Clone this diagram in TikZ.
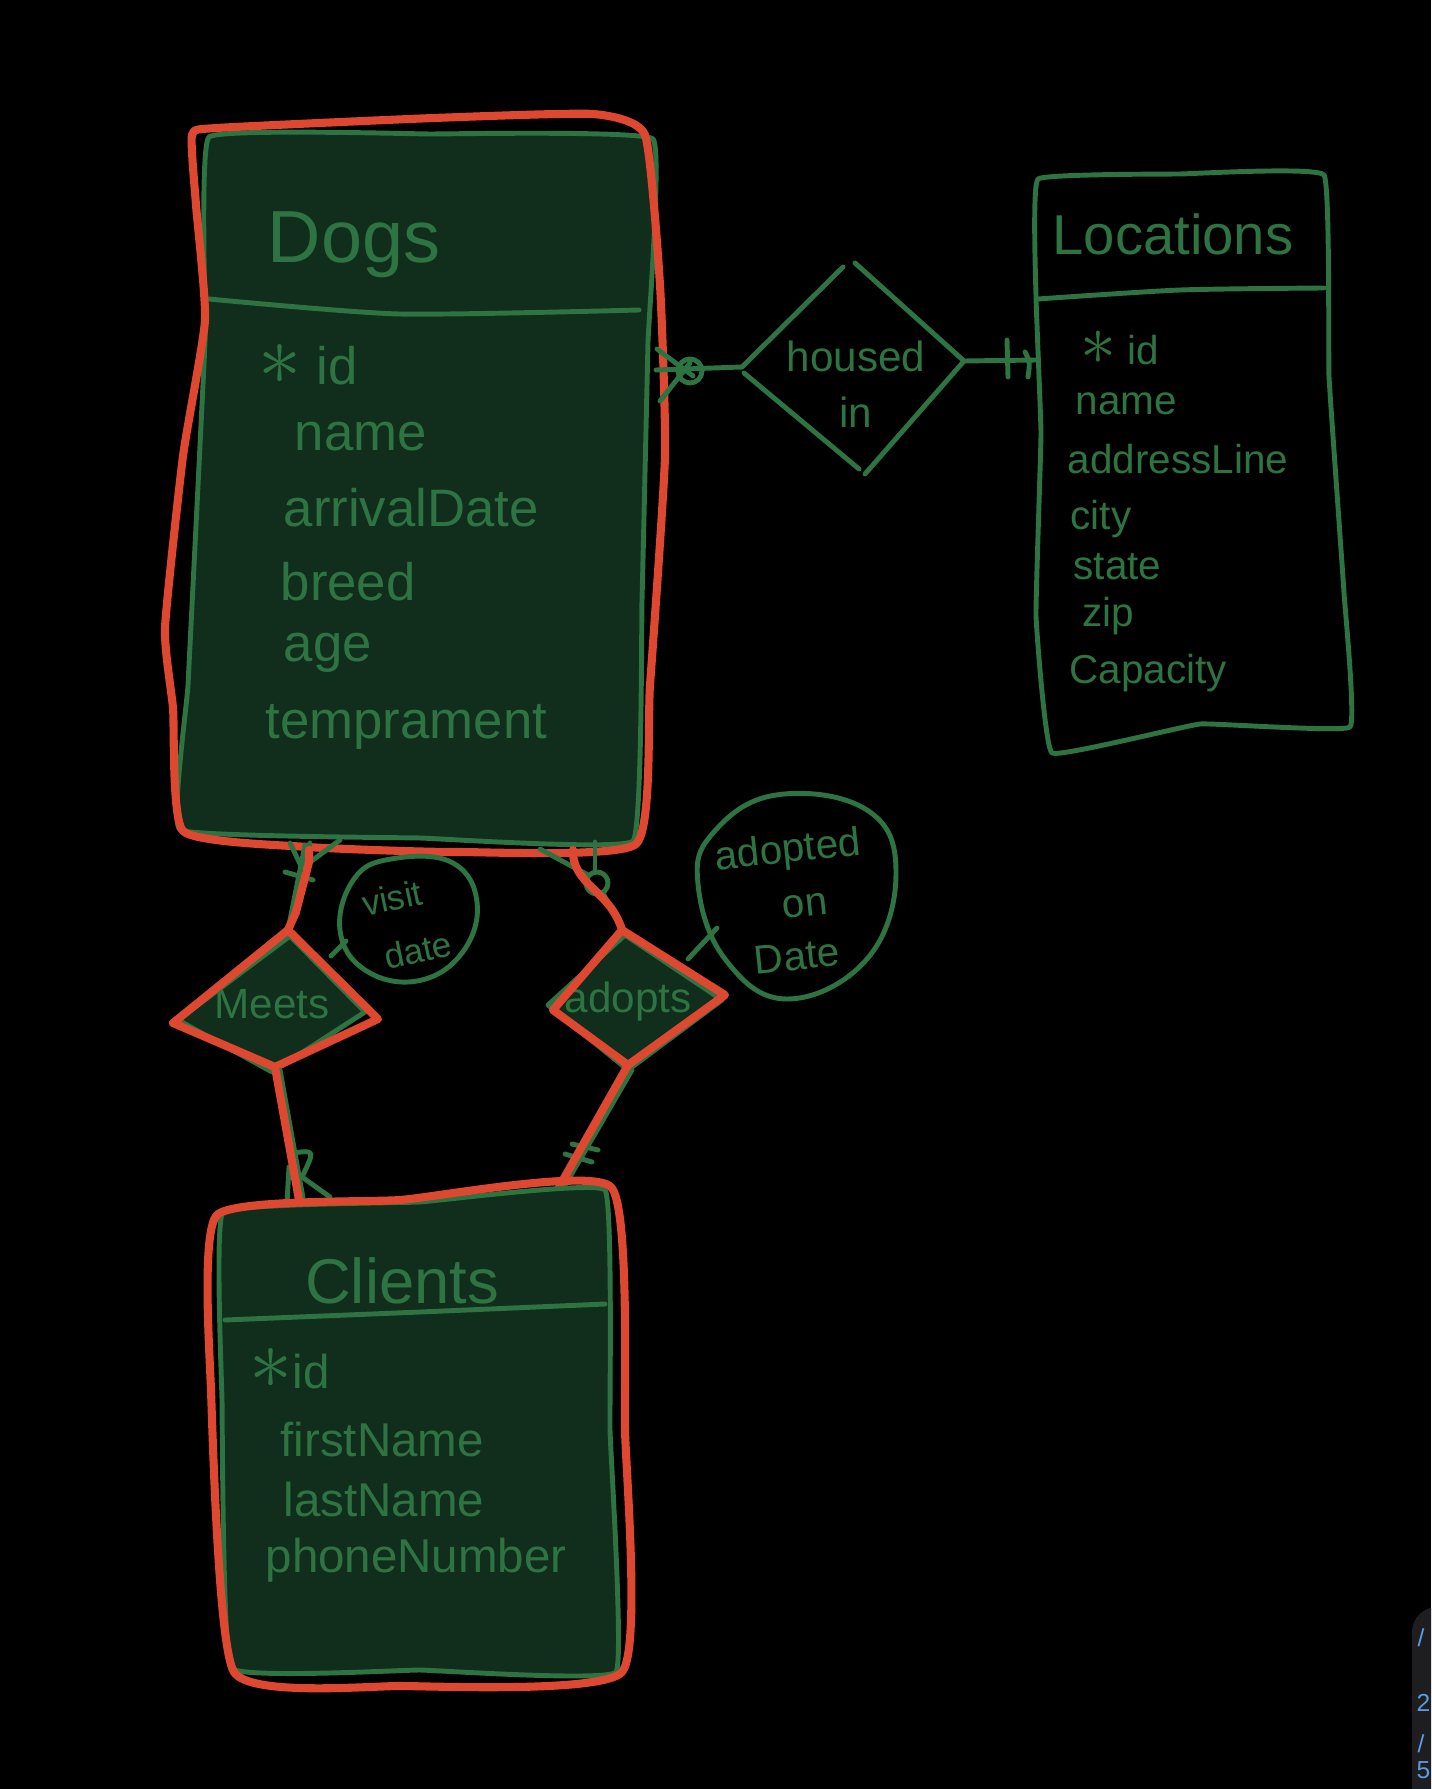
\documentclass[tikz,border=0pt]{standalone}
\usepackage{fontspec}
\setmainfont{Liberation Sans}
\usetikzlibrary{calc}
\definecolor{ergreen}{RGB}{46,115,66}
\definecolor{erfill}{RGB}{17,46,28}
\definecolor{erred}{RGB}{222,72,48}
\definecolor{uigray}{RGB}{30,30,32}
\definecolor{uiblue}{RGB}{90,155,225}
\newcommand{\fs}[1]{\fontsize{#1}{#1}\selectfont}
\newcommand{\keymark}{\scalebox{1.7}{$\ast$}}
\tikzset{
  pen/.style={draw=ergreen, line width=1.4pt, line cap=round, line join=round},
  redpen/.style={draw=erred, line width=2.3pt, line cap=round, line join=round},
  title/.style={text=ergreen, inner sep=0pt},
  attr/.style={text=ergreen, anchor=west, inner sep=0pt},
}

\begin{document}
\begin{tikzpicture}[x=0.01cm, y=-0.01cm]
			\fill[black] (0,0) rectangle (1431,1789);
			\useasboundingbox (0,0) rectangle (1431,1789);

			% Dogs
			\filldraw[pen, fill=erfill] plot[smooth cycle, tension=.15] coordinates {(209,137) (430,134) (653,139) (648,342) (642,600) (633,841) (420,838) (180,830) (188,685) (205,342)};
			\draw[pen] plot[smooth, tension=.4] coordinates {(209,299) (399,314) (639,310)};
			\node[title, font=\fs{21}] (dogs) at (354,245) {Dogs};
			\node[attr, font=\fs{15}] (d1) at (258,365) {\keymark\ id};
			\node[attr, font=\fs{15}] (d2) at (294,437) {name};
			\node[attr, font=\fs{15}] (d3) at (283,508) {arrivalDate};
			\node[attr, font=\fs{15}] (d4) at (280,582) {breed};
			\node[attr, font=\fs{15}] (d5) at (283,653) {age};
			\node[attr, font=\fs{15}] (d6) at (265,727) {temprament};
			\draw[redpen] plot[smooth cycle, tension=.3] coordinates {(192,135) (217,128) (434,118) (593,114) (645,135) (660,285) (665,456) (650,685) (636,844) (456,852) (308,847) (183,831) (173,708) (165,628) (183,456) (205,320) (196,205)};

			% Locations
			\draw[pen] plot[smooth cycle, tension=.15] coordinates {(1038,179) (1180,174) (1324,175) (1329,377) (1344,593) (1350,727) (1200,724) (1052,753) (1036,616) (1041,434) (1036,297)};
			\draw[pen] plot[smooth, tension=.4] coordinates {(1038,299) (1180,290) (1324,288)};
			\node[title, font=\fs{16}] (loc) at (1173,234) {Locations};
			\node[attr, font=\fs{11.5}] (l1) at (1080,348) {\keymark\ id};
			\node[attr, font=\fs{11.5}] (l2) at (1075,404) {name};
			\node[attr, font=\fs{11.5}] (l3) at (1067,459) {addressLine};
			\node[attr, font=\fs{11.5}] (l4) at (1070,519) {city};
			\node[attr, font=\fs{11.5}] (l5) at (1073,567) {state};
			\node[attr, font=\fs{11.5}] (l6) at (1082,616) {zip};
			\node[attr, font=\fs{11.5}] (l7) at (1069,673) {Capacity};

			% housed in
			\coordinate (hL) at (742,367);
			\coordinate (hT) at (849,265);
			\coordinate (hR) at (964,361);
			\coordinate (hB) at (865,474);
			\draw[pen] (hL) -- ($(hT)+(-6,2)$) ($(hT)+(6,-2)$) -- (hR) -- (hB) ($(hB)+(-6,-5)$) -- ($(hL)+(2,6)$);
			\node[title, font=\fs{12}, align=center] (housed) at (856,384) {housed\\[4pt]in};
			\coordinate (dR) at (656,370);
			\coordinate (lL) at (1037,360);
			\draw[pen] (dR) -- (hL);
			\draw[pen] (hR) -- (lL);
			\draw[pen] (657,349) -- (693,376) (660,401) -- (690,363);
			\draw[pen] (690,371) circle [radius=0.12cm];
			\draw[pen] (1007,340) -- (1008,377) (1025,352) .. controls (1030,362) .. (1028,377);

			% Meets
			\coordinate (mT) at (288,930);
			\coordinate (mL) at (173,1023);
			\coordinate (mB) at (275,1067);
			\coordinate (mR) at (378,1019);
			\filldraw[pen, fill=erfill] (290,936) -- (178,1020) -- (272,1072) -- (365,1012) -- cycle;
			\node[title, font=\fs{12}] (meets) at (272,1004) {Meets};
			\draw[redpen] (mT) -- (mL) -- (mB) -- (mR) -- cycle;

			% adopts
			\coordinate (aT) at (622,930);
			\coordinate (aL) at (553,1010);
			\coordinate (aB) at (628,1065);
			\coordinate (aR) at (725,995);
			\filldraw[pen, fill=erfill] (625,935) -- (548,1005) -- (628,1070) -- (722,1000) -- cycle;
			\node[title, font=\fs{12}] (adopts) at (628,1002) {adopts};
			\draw[redpen] (aT) -- (aL) -- (aB) -- (aR) -- cycle;

			% visit date
			\draw[pen] plot[smooth cycle, tension=.7] coordinates {(391,859) (451,862) (477,902) (462,953) (417,981) (365,970) (340,930) (354,879)};
			\node[title, font=\fs{10}, rotate=12] (visit) at (392,898) {visit};
			\node[title, font=\fs{10}, rotate=12] (vdate) at (418,950) {date};
			\coordinate (vd) at (346,941);
			\coordinate (mV) at (331,956);
			\draw[pen] (mV) -- (vd);

			% adopted on Date
			\draw[pen] plot[smooth cycle, tension=.7] coordinates {(776,795) (713,833) (698,884) (725,959) (787,999) (867,959) (896,873) (867,810)};
			\node[title, font=\fs{11.5}, rotate=6] (aod1) at (788,852) {adopted};
			\node[title, font=\fs{11.5}, rotate=6] (aod2) at (805,906) {on};
			\node[title, font=\fs{11.5}, rotate=6] (aod3) at (797,956) {Date};
			\coordinate (ad) at (717,928);
			\coordinate (aV) at (688,959);
			\draw[pen] (aV) -- (ad);

			% Dogs -- Meets
			\coordinate (dB1) at (305,845);
			\draw[pen] (dB1) -- (mT);
			\draw[pen] (290,843) -- (302,868) -- (310,843) (302,868) -- (340,840);
			\draw[pen] (285,872) -- (313,880);
			\draw[redpen] (309,850) -- (309,862) -- (296,912) -- (mT);

			% Dogs -- adopts
			\coordinate (dB2) at (540,849);
			\draw[pen] (dB2) -- (588,875);
			\draw[pen] (597,883) circle [radius=0.11cm];
			\draw[pen] (603,893) -- (aT);
			\draw[pen] (595,842) -- (595,872);
			\draw[redpen] (573,850) .. controls (572,885) and (610,890) .. (aT);

			% Meets -- Clients
			\coordinate (cT1) at (299,1200);
			\draw[pen] (280,1070) -- (303,1198);
			\draw[pen] (293,1153) .. controls (315,1150) .. (302,1177) -- (330,1197);
			\draw[pen] (289,1167) -- (287,1203);
			\draw[redpen] (mB) -- (cT1);

			% adopts -- Clients
			\coordinate (cT2) at (559,1187);
			\draw[pen] (632,1070) -- (564,1187);
			\draw[pen] (572,1144) -- (598,1150) (565,1154) -- (592,1162);
			\draw[redpen] (aB) -- (cT2);

			% Clients
			\filldraw[pen, fill=erfill] plot[smooth cycle, tension=.15] coordinates {(223,1212) (420,1202) (605,1190) (610,1430) (616,1672) (420,1670) (231,1668) (222,1400)};
			\draw[pen] plot[smooth, tension=.4] coordinates {(225,1320) (420,1312) (605,1304)};
			\node[title, font=\fs{18}] (clients) at (402,1281) {Clients};
			\node[attr, font=\fs{13.5}] (c1) at (249,1369) {\keymark id};
			\node[attr, font=\fs{13.5}] (c2) at (280,1440) {firstName};
			\node[attr, font=\fs{13.5}] (c3) at (283,1500) {lastName};
			\node[attr, font=\fs{13.5}] (c4) at (265,1560) {phoneNumber};
			\draw[redpen] plot[smooth cycle, tension=.3] coordinates {(217,1215) (400,1200) (611,1187) (625,1430) (622,1672) (400,1686) (234,1672) (211,1390)};

			% corner
			\begin{scope}
				\clip (0,0) rectangle (1431,1789);
				\fill[uigray, rounded corners=0.25cm] (1412,1607) rectangle (1480,1830);
				\node[attr, text=uiblue, font=\fs{7}] (u1) at (1417,1638) {/};
				\node[attr, text=uiblue, font=\fs{7}] (u2) at (1416,1703) {2};
				\node[attr, text=uiblue, font=\fs{7}] (u3) at (1417,1744) {/};
				\node[attr, text=uiblue, font=\fs{7}] (u4) at (1416,1770) {5};
			\end{scope}
		\end{tikzpicture}
\end{document}
